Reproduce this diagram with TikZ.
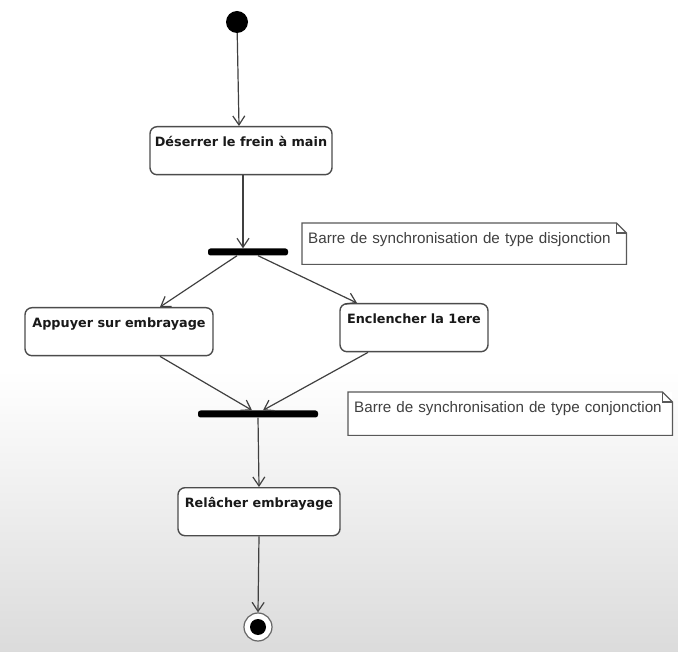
\documentclass[tikz,border=0pt]{standalone}
\usepackage{fontspec}
\setmainfont{Liberation Sans}
\newfontfamily\actfont{DejaVu Sans}
\usetikzlibrary{arrows.meta}
\newcommand{\dogear}[1]{%
  \draw[noteline] (#1.north west) -- ([xshift=-10pt]#1.north east)
    -- ([yshift=-10pt]#1.north east) -- (#1.south east) -- (#1.south west) -- cycle;
  \draw[noteline] ([xshift=-10pt]#1.north east) |- ([yshift=-10pt]#1.north east);}

\begin{document}
\begin{tikzpicture}[x=1pt, y=-1pt,
    flow/.style={draw=black!75, line width=1.2pt,
        -{Straight Barb[length=9pt,width=12pt,line width=1.2pt]}},
    action/.style={draw=black!70, line width=1.4pt, rounded corners=7pt, fill=white,
        anchor=north, inner xsep=4pt, inner ysep=5pt, text height=15pt, text depth=23pt,
        font=\actfont\bfseries\fontsize{12.8}{15}\selectfont, text=black!90},
    syncbar/.style={fill=black, rounded corners=2.5pt, inner sep=0pt, minimum height=7pt},
    note/.style={fill=white, anchor=north west, align=left, inner xsep=6pt, inner ysep=4pt,
        text height=16pt, text depth=17pt, font=\fontsize{15.2}{17}\selectfont, text=black!75},
    noteline/.style={draw=black!65, line width=1.2pt},
]
\useasboundingbox (0,0) rectangle (678,652);
\fill[white] (0,0) rectangle (678,652);
\shade[top color=white, bottom color=black!14] (0,370) rectangle (678,652);

\node (start) [circle, fill=black, minimum size=22pt, inner sep=0pt] at (237,22) {};
\node (frein) [action, minimum width=182pt] at (241,126) {Déserrer le frein à main};
\node (fork) [syncbar, minimum width=80pt] at (248,252) {};
\node (appuyer) [action, minimum width=188pt] at (119,307) {Appuyer sur embrayage};
\node (enclencher) [action, minimum width=148pt] at (414,303) {Enclencher la 1ere};
\node (join) [syncbar, minimum width=120pt] at (258,414) {};
\node (relacher) [action, minimum width=162pt] at (259,487) {Relâcher embrayage};
\node (final) [circle, draw=black!60, line width=1.2pt, fill=white, minimum size=28pt,
    inner sep=0pt] at (258,627) {};
\node (finaldot) [circle, fill=black, minimum size=16pt, inner sep=0pt] at (final) {};

\node (disjonction) [note, text width=312pt] at (302,223)
    {Barre de synchronisation de type disjonction};
\dogear{disjonction}
\node (conjonction) [note, text width=312pt, text depth=19pt] at (348,392)
    {Barre de synchronisation de type conjonction};
\dogear{conjonction}

\draw[flow] (start) -- ([xshift=-2pt]frein.north);
\draw[flow] ([xshift=2pt]frein.south) -- ([xshift=-5pt]fork.north);
\draw[flow] ([xshift=-11pt]fork.south) -- ([xshift=41pt]appuyer.north);
\draw[flow] ([xshift=10pt]fork.south) -- ([xshift=-57pt]enclencher.north);
\draw[flow] ([xshift=41pt]appuyer.south) -- ([xshift=-6pt]join.north);
\draw[flow] ([xshift=-46pt]enclencher.south) -- ([xshift=5pt]join.north);
\draw[flow] (join.south) -- (relacher.north);
\draw[flow] (relacher.south) -- (final.north);
\end{tikzpicture}
\end{document}
